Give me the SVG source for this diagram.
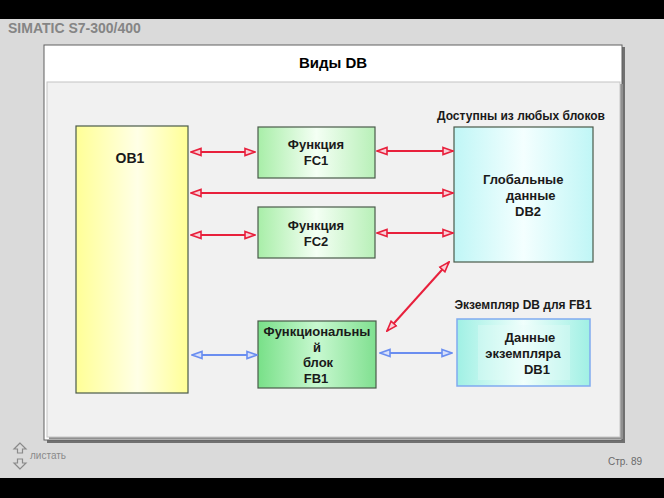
<svg xmlns="http://www.w3.org/2000/svg" width="664" height="498" viewBox="0 0 664 498">
<defs>
<style>
.t{font-family:"Liberation Sans",Arial,sans-serif;font-weight:bold;fill:#1a1a1a}
.box{stroke:#4a5a4a;stroke-width:1.2}
.red{stroke:#e8203c;stroke-width:2;fill:none;marker-start:url(#ra);marker-end:url(#ra)}
.blue{stroke:#6a8ef0;stroke-width:2;fill:none;marker-start:url(#ba);marker-end:url(#ba)}
</style>
<marker id="ra" viewBox="0 0 12 10" refX="11" refY="5" markerWidth="12" markerHeight="10" markerUnits="userSpaceOnUse" orient="auto-start-reverse">
<path d="M1,1.5 L11,5 L1,8.5 Z" fill="#f8d0d8" stroke="#e8203c" stroke-width="1.6"/>
</marker>
<marker id="ba" viewBox="0 0 12 10" refX="11" refY="5" markerWidth="12" markerHeight="10" markerUnits="userSpaceOnUse" orient="auto-start-reverse">
<path d="M1,1.5 L11,5 L1,8.5 Z" fill="#d8e0fa" stroke="#6a8ef0" stroke-width="1.6"/>
</marker>
<linearGradient id="gy" x1="0" x2="1" y1="0" y2="0">
<stop offset="0" stop-color="#ffff96"/><stop offset="0.55" stop-color="#ffffe6"/><stop offset="1" stop-color="#ffff96"/>
</linearGradient>
<linearGradient id="gg" x1="0" x2="1" y1="0" y2="0">
<stop offset="0" stop-color="#a8eea8"/><stop offset="0.5" stop-color="#f4fff4"/><stop offset="1" stop-color="#b8f0b8"/>
</linearGradient>
<linearGradient id="gf" x1="0" x2="1" y1="0" y2="0">
<stop offset="0" stop-color="#78e088"/><stop offset="0.5" stop-color="#c8f8d0"/><stop offset="1" stop-color="#80e090"/>
</linearGradient>
<linearGradient id="gc" x1="0" x2="1" y1="0" y2="0">
<stop offset="0" stop-color="#c0f6f6"/><stop offset="0.5" stop-color="#f4ffff"/><stop offset="1" stop-color="#c0f6f6"/>
</linearGradient>
<linearGradient id="gd" x1="0" x2="1" y1="0" y2="0">
<stop offset="0" stop-color="#a0f0e4"/><stop offset="0.5" stop-color="#f0fffc"/><stop offset="1" stop-color="#a0f0e4"/>
</linearGradient>
</defs>
<rect x="0" y="0" width="664" height="498" fill="#dadada"/>
<rect x="0" y="0" width="664" height="19" fill="#000"/>
<rect x="0" y="478" width="664" height="20" fill="#000"/>
<text x="8" y="33" class="t" style="font-size:14px;fill:#858585">SIMATIC S7-300/400</text>
<g id="panel">
<rect x="47" y="47" width="578" height="396" fill="#707070"/>
<rect x="44" y="45" width="578" height="395" fill="#ffffff" stroke="#606060" stroke-width="1"/>
<rect x="49" y="84" width="574" height="355" fill="#909090"/>
<rect x="47" y="82" width="573" height="355" fill="#f1f1f1" stroke="#c4c4c4" stroke-width="1"/>
</g>
<text x="333" y="68" text-anchor="middle" class="t" style="font-size:15px;fill:#000">Виды DB</text>
<text x="521" y="120" text-anchor="middle" class="t" style="font-size:12px">Доступны из любых блоков</text>
<text x="523" y="309" text-anchor="middle" class="t" style="font-size:12px">Экземпляр DB для FB1</text>
<g id="OB1">
<rect x="76" y="126" width="112" height="267" fill="url(#gy)" class="box" stroke="#6a6a3a"/>
<text x="130" y="163" text-anchor="middle" class="t" style="font-size:14px">OB1</text>
</g>
<g id="FC1">
<rect x="258" y="127" width="117" height="51" fill="url(#gg)" class="box"/>
<text x="316" y="149" text-anchor="middle" class="t" style="font-size:13px">Функция</text>
<text x="316" y="165" text-anchor="middle" class="t" style="font-size:13px">FC1</text>
</g>
<g id="FC2">
<rect x="258" y="207" width="117" height="51" fill="url(#gg)" class="box"/>
<text x="316" y="230" text-anchor="middle" class="t" style="font-size:13px">Функция</text>
<text x="316" y="246" text-anchor="middle" class="t" style="font-size:13px">FC2</text>
</g>
<g id="FB1">
<rect x="258" y="321" width="118" height="67" fill="url(#gf)" class="box"/>
<text x="317" y="336" text-anchor="middle" class="t" style="font-size:13px">Функциональны</text>
<text x="317" y="352" text-anchor="middle" class="t" style="font-size:13px">й</text>
<text x="318" y="367" text-anchor="middle" class="t" style="font-size:13px">блок</text>
<text x="316" y="383" text-anchor="middle" class="t" style="font-size:13px">FB1</text>
</g>
<g id="DB2">
<rect x="454" y="127" width="139" height="135" fill="url(#gc)" class="box" stroke="#5a6a6a"/>
<text x="483" y="184" class="t" style="font-size:13px">Глобальные</text>
<text x="506" y="200" class="t" style="font-size:13px">данные</text>
<text x="515" y="216" class="t" style="font-size:13px">DB2</text>
</g>
<g id="DB1">
<rect x="457" y="319" width="133" height="67" fill="url(#gd)" stroke="#80aaf0" stroke-width="1.5"/>
<rect x="478" y="325" width="92" height="55" fill="#e8fbf8" opacity="0.35"/>
<text x="530" y="342" text-anchor="middle" class="t" style="font-size:13px">Данные</text>
<text x="523" y="358" text-anchor="middle" class="t" style="font-size:13px">экземпляра</text>
<text x="537" y="374" text-anchor="middle" class="t" style="font-size:13px">DB1</text>
</g>
<g id="connectors">
<line x1="191" y1="152" x2="255" y2="152" class="red"/>
<line x1="191" y1="193" x2="453" y2="193" class="red"/>
<line x1="191" y1="235" x2="255" y2="235" class="red"/>
<line x1="377" y1="151" x2="453" y2="151" class="red"/>
<line x1="377" y1="233" x2="453" y2="233" class="red"/>
<line x1="387" y1="331" x2="449" y2="262" class="red"/>
<line x1="192" y1="355" x2="257" y2="355" class="blue"/>
<line x1="380" y1="353" x2="452" y2="353" class="blue"/>
</g>
<g id="nav" fill="none" stroke="#8a8a8a" stroke-width="1.2">
<path d="M20,443 L14,449 L17.5,449 L17.5,453 L22.5,453 L22.5,449 L26,449 Z"/>
<path d="M20,469 L14,463 L17.5,463 L17.5,459 L22.5,459 L22.5,463 L26,463 Z"/>
</g>
<text x="30" y="459" class="t" style="font-size:10px;fill:#8a8a8a;font-weight:normal">листать</text>
<text x="608" y="465" class="t" style="font-size:10px;fill:#6a6a6a;font-weight:normal">Стр. 89</text>
</svg>
